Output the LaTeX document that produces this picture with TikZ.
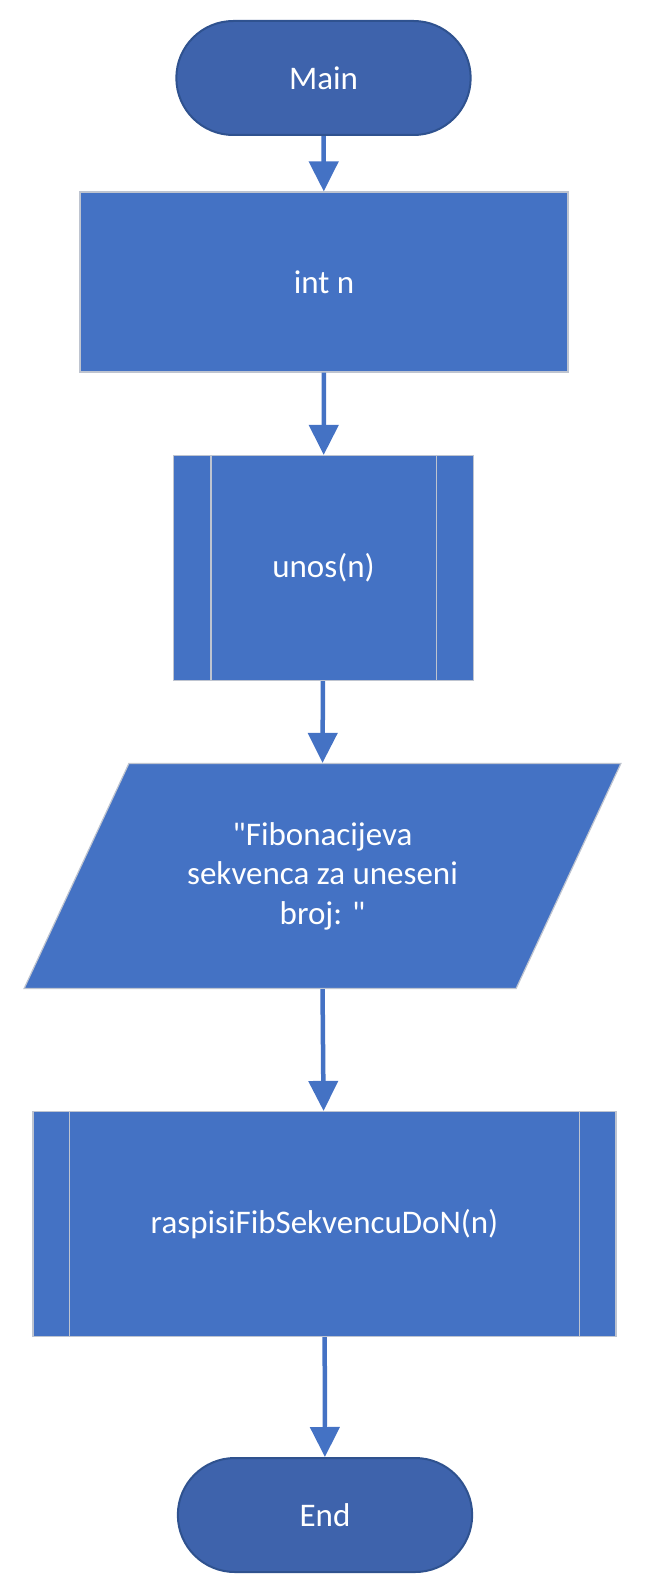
\documentclass[tikz,border=0pt]{standalone}
\usepackage{fontspec}
\setmainfont{Carlito}[Ligatures=TeXOff]
\usetikzlibrary{shapes.geometric,shapes.misc,arrows.meta}
\definecolor{termfill}{RGB}{62,99,172}
\definecolor{termline}{RGB}{47,82,143}
\definecolor{boxfill}{RGB}{68,114,196}
\definecolor{boxline}{RGB}{190,196,208}
\tikzset{
    terminal/.style={rounded rectangle, fill=termfill, draw=termline, line width=2pt,
        minimum width=301pt, minimum height=114pt, text=white, font=\fontsize{33}{40}\selectfont},
    process/.style={rectangle, fill=boxfill, draw=boxline, line width=1.2pt,
        text=white, font=\fontsize{33}{40}\selectfont},
    io/.style={trapezium, trapezium left angle=56.7, trapezium right angle=123.3,
        trapezium stretches=true, fill=boxfill, draw=boxline, line width=1.2pt,
        text=white, align=center, font=\fontsize{33}{39.5}\selectfont},
    flow/.style={boxfill, line width=4.5pt, -{Triangle[width=29pt,length=30pt]}}
}
\begin{document}
\begin{tikzpicture}[x=1pt, y=-1pt]
        % Fix the page size
        \useasboundingbox (0,0) rectangle (647,1594);
        % Draw the blocks
        \node[terminal] (main) at (323.5,78) {Main};
        \node[process, minimum width=488pt, minimum height=180pt] (intn) at (324,282) {int n};
        \node[process, minimum width=300pt, minimum height=225pt] (unos) at (323.5,568) {unos(n)};
        \node[io, minimum width=598pt, minimum height=225pt] (fib) at (322.5,876)
            {"Fibonacijeva\\sekvenca za uneseni\\broj: "};
        \node[process, minimum width=583pt, minimum height=225pt] (raspisi) at (324.5,1224) {raspisiFibSekvencuDoN(n)};
        \node[terminal] (end) at (325,1515) {End};
        % Draw the inner lines of the subroutines
        \draw[boxline, line width=1.2pt] ([xshift=38pt]unos.north west) -- ([xshift=38pt]unos.south west);
        \draw[boxline, line width=1.2pt] ([xshift=-38pt]unos.north east) -- ([xshift=-38pt]unos.south east);
        \draw[boxline, line width=1.2pt] ([xshift=37pt]raspisi.north west) -- ([xshift=37pt]raspisi.south west);
        \draw[boxline, line width=1.2pt] ([xshift=-37pt]raspisi.north east) -- ([xshift=-37pt]raspisi.south east);
        % Draw the arrows
        \draw[flow] (main) -- (intn);
        \draw[flow] (intn) -- (unos);
        \draw[flow] (unos) -- (fib.north);
        \draw[flow] (fib.south) -- (raspisi);
        \draw[flow] (raspisi) -- (end);
    \end{tikzpicture}
\end{document}
